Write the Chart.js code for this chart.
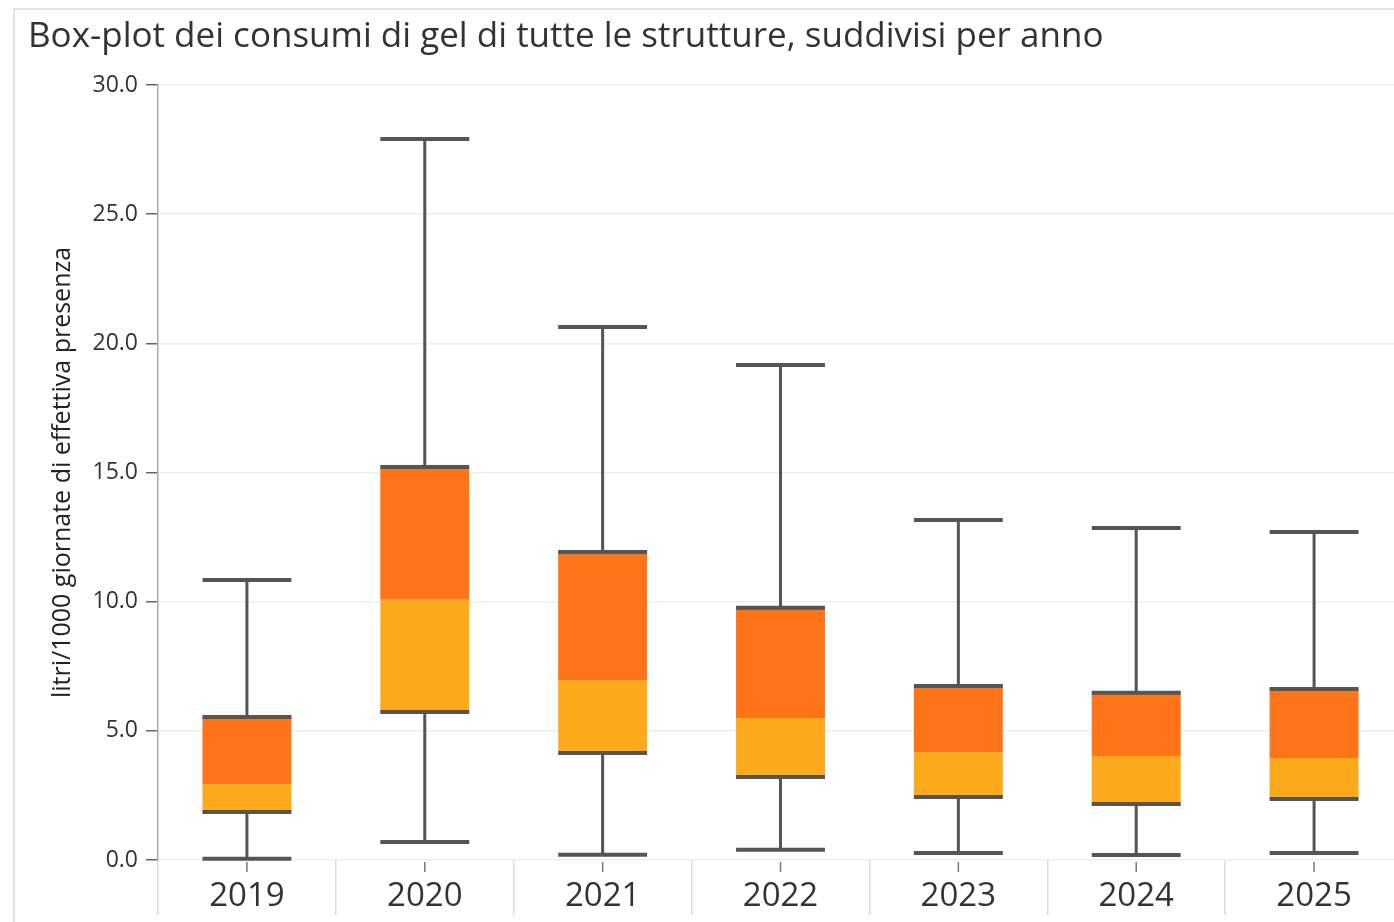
<!DOCTYPE html>
<html lang="it">
<head>
    <meta charset="UTF-8">
    <title>Box-plot consumi gel</title>
    <script src="https://cdn.jsdelivr.net/npm/chart.js"></script>
    <style>
        html, body { margin: 0; padding: 0; background: #fff; overflow: hidden; }
        #cornice { position: absolute; left: 13px; top: 8px; right: -10px; bottom: -10px;
                   border-left: 2px solid #e4e4e4; border-top: 2px solid #e4e4e4; }
        #contenitore { position: absolute; left: 0; top: 0; width: 1420px; height: 922px; }
    </style>
</head>
<body>
    <div id="cornice"></div>
    <div id="contenitore"><canvas id="boxChart"></canvas></div>

    <script>
        // dati
        const anni     = ["2019", "2020", "2021", "2022", "2023", "2024", "2025"];
        const minimi   = [0.05, 0.70, 0.20, 0.40, 0.27, 0.19, 0.27];
        const q1       = [1.86, 5.73, 4.14, 3.21, 2.44, 2.17, 2.36];
        const mediane  = [2.94, 10.07, 6.97, 5.50, 4.18, 4.03, 3.95];
        const q3       = [5.54, 15.21, 11.92, 9.76, 6.74, 6.47, 6.62];
        const massimi  = [10.84, 27.91, 20.63, 19.16, 13.16, 12.85, 12.70];

        const FONT = "'Open Sans', 'Noto Sans', sans-serif";

        // baffi, cappucci e tacche centrali
        const baffi = {
            id: "baffi",
            afterDatasetsDraw(chart) {
                const { ctx, scales: { x, y } } = chart;
                const barre = chart.getDatasetMeta(0).data;
                ctx.save();
                anni.forEach((a, i) => {
                    const cx = x.getPixelForValue(i);
                    const meta = barre[i].width / 2;
                    ctx.strokeStyle = "#555";
                    ctx.lineWidth = 3;
                    ctx.beginPath();
                    ctx.moveTo(cx, y.getPixelForValue(massimi[i]));
                    ctx.lineTo(cx, y.getPixelForValue(q3[i]));
                    ctx.moveTo(cx, y.getPixelForValue(q1[i]));
                    ctx.lineTo(cx, y.getPixelForValue(minimi[i]));
                    ctx.stroke();
                    ctx.lineWidth = 4;
                    [minimi[i], q1[i], q3[i], massimi[i]].forEach(v => {
                        const py = y.getPixelForValue(v);
                        ctx.beginPath();
                        ctx.moveTo(cx - meta, py);
                        ctx.lineTo(cx + meta, py);
                        ctx.stroke();
                    });
                    ctx.strokeStyle = "#777";
                    ctx.lineWidth = 1.5;
                    ctx.beginPath();
                    ctx.moveTo(cx, chart.chartArea.bottom + 2);
                    ctx.lineTo(cx, chart.chartArea.bottom + 12);
                    ctx.stroke();
                });
                ctx.restore();
            }
        };

        new Chart(document.getElementById("boxChart"), {
            type: "bar",
            data: {
                labels: anni,
                datasets: [
                    {
                        label: "Q1 - mediana",
                        data: anni.map((a, i) => [q1[i], mediane[i]]),
                        backgroundColor: "#fcaa1c",
                        barPercentage: 0.5,
                        categoryPercentage: 1,
                        grouped: false
                    },
                    {
                        label: "mediana - Q3",
                        data: anni.map((a, i) => [mediane[i], q3[i]]),
                        backgroundColor: "#fd7419",
                        barPercentage: 0.5,
                        categoryPercentage: 1,
                        grouped: false
                    }
                ]
            },
            options: {
                responsive: true,
                maintainAspectRatio: false,
                animation: false,
                layout: { padding: { left: 28, right: 17, top: 0, bottom: 0 } },
                plugins: {
                    legend: { display: false },
                    tooltip: { enabled: false },
                    title: {
                        display: true,
                        text: "Box-plot dei consumi di gel di tutte le strutture, suddivisi per anno",
                        align: "start",
                        color: "#333",
                        font: { family: FONT, size: 35, weight: "normal" },
                        padding: { top: 16, bottom: 27 }
                    }
                },
                scales: {
                    x: {
                        grid: { offset: true, drawOnChartArea: false, color: "#dcdcdc", lineWidth: 1.5, tickLength: 55 },
                        border: { display: false },
                        ticks: { font: { family: FONT, size: 33 }, color: "#333", padding: -38 },
                        afterFit(s) { s.height = 62; }
                    },
                    y: {
                        min: 0,
                        max: 30,
                        ticks: {
                            stepSize: 5,
                            callback: v => v.toFixed(1),
                            font: { family: FONT, size: 23 },
                            color: "#333",
                            padding: 8
                        },
                        grid: { color: "#eeeeee", lineWidth: 1.5, tickColor: "#666", tickLength: 12, tickWidth: 1.5 },
                        border: { color: "#aaa", width: 1.5 },
                        title: {
                            display: true,
                            text: "litri/1000 giornate di effettiva presenza",
                            color: "#222",
                            font: { family: FONT, size: 25 },
                            padding: { top: 20, bottom: 0 }
                        },
                        afterFit(s) { s.width = 130; }
                    }
                }
            },
            plugins: [baffi]
        });
    </script>
</body>
</html>
